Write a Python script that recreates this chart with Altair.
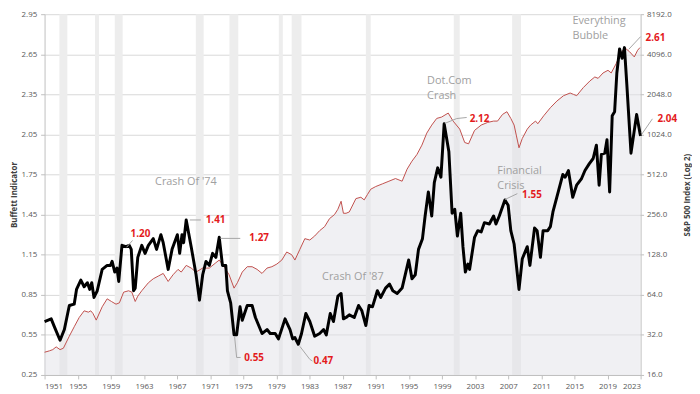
import altair as alt
import pandas as pd

# ---------------- data ----------------
bi_year = [1951.00, 1951.80, 1952.19, 1952.87, 1953.39, 1953.99, 1954.58, 1954.86, 1955.38, 1955.78,
           1956.17, 1956.46, 1956.70, 1956.97, 1957.36, 1957.96, 1958.56, 1958.96, 1959.16, 1959.48,
           1959.75, 1959.96, 1960.35, 1960.83, 1961.23, 1961.47, 1961.75, 1961.95, 1962.26, 1962.74,
           1963.14, 1963.54, 1964.13, 1964.53, 1965.05, 1965.33, 1965.93, 1966.40, 1967.04, 1967.32,
           1967.60, 1967.80, 1968.11, 1968.71, 1969.30, 1969.71, 1970.10, 1970.50, 1970.90, 1971.30,
           1971.69, 1972.10, 1972.49, 1972.89, 1973.09, 1973.48, 1973.89, 1974.20, 1974.61, 1974.88,
           1975.48, 1976.07, 1976.47, 1977.27, 1977.87, 1978.26, 1978.86, 1979.26, 1980.05, 1980.65,
           1980.97, 1981.24, 1981.65, 1982.04, 1982.56, 1983.04, 1983.63, 1984.23, 1984.71, 1985.03,
           1985.51, 1985.90, 1986.43, 1986.82, 1987.10, 1987.42, 1987.81, 1988.41, 1988.93, 1989.33,
           1989.81, 1990.20, 1990.61, 1991.20, 1991.60, 1992.19, 1992.67, 1993.07, 1993.59, 1994.19,
           1994.98, 1995.38, 1995.78, 1996.17, 1996.65, 1996.97, 1997.36, 1997.77, 1998.08, 1998.49,
           1998.88, 1999.27, 1999.84, 2000.23, 2000.55, 2000.87, 2001.27, 2001.54, 2001.83, 2002.14,
           2002.34, 2002.94, 2003.33, 2003.74, 2004.13, 2004.73, 2005.24, 2005.53, 2005.93, 2006.61,
           2007.00, 2007.32, 2007.72, 2008.31, 2008.71, 2009.31, 2009.63, 2010.19, 2010.50, 2010.90,
           2011.22, 2011.78, 2012.10, 2012.41, 2013.09, 2013.60, 2013.89, 2014.28, 2014.80, 2015.27,
           2015.87, 2016.28, 2016.79, 2017.27, 2017.66, 2017.99, 2018.26, 2018.67, 2018.94, 2019.26,
           2019.57, 2019.86, 2020.13, 2020.46, 2020.77, 2021.05, 2021.33, 2021.84, 2022.52, 2022.92,
           2023.00]
buffett = [0.65, 0.67, 0.61, 0.51, 0.59, 0.77, 0.78, 0.89, 0.96, 0.91,
           0.94, 0.89, 0.94, 0.83, 0.88, 1.04, 1.07, 1.07, 1.10, 1.02,
           1.05, 0.95, 1.22, 1.21, 1.22, 1.19, 0.88, 0.90, 1.13, 1.22,
           1.16, 1.22, 1.27, 1.19, 1.30, 1.24, 1.04, 1.19, 1.30, 1.16,
           1.30, 1.24, 1.41, 1.21, 1.00, 0.81, 1.00, 1.10, 1.07, 1.16,
           1.13, 1.28, 1.07, 1.07, 0.88, 0.79, 0.55, 0.55, 0.76, 0.66,
           0.77, 0.77, 0.68, 0.56, 0.59, 0.56, 0.56, 0.52, 0.67, 0.59,
           0.52, 0.53, 0.48, 0.56, 0.71, 0.65, 0.54, 0.56, 0.59, 0.55,
           0.71, 0.65, 0.84, 0.86, 0.67, 0.68, 0.70, 0.68, 0.77, 0.73,
           0.62, 0.77, 0.76, 0.88, 0.83, 0.90, 0.93, 0.88, 0.86, 0.90,
           1.11, 0.97, 1.00, 1.19, 1.27, 1.44, 1.62, 1.44, 1.69, 1.80,
           1.73, 2.13, 1.92, 1.46, 1.49, 1.29, 1.46, 1.21, 1.02, 1.08,
           1.04, 1.28, 1.33, 1.32, 1.39, 1.38, 1.44, 1.38, 1.44, 1.56,
           1.52, 1.33, 1.23, 0.89, 1.12, 1.21, 1.07, 1.35, 1.33, 1.13,
           1.33, 1.33, 1.36, 1.47, 1.63, 1.75, 1.73, 1.78, 1.58, 1.67,
           1.72, 1.78, 1.83, 1.87, 1.97, 1.67, 1.90, 1.91, 2.01, 1.62,
           2.19, 2.22, 2.51, 2.69, 2.62, 2.70, 2.43, 1.91, 2.20, 2.06,
           2.04]

sp_year = [1951.00, 1951.60, 1951.99, 1952.40, 1952.87, 1953.27, 1953.99, 1954.58, 1955.18, 1955.78,
           1956.29, 1956.58, 1956.85, 1957.24, 1957.96, 1958.56, 1959.08, 1959.63, 1960.04, 1960.55,
           1961.15, 1961.54, 1961.95, 1962.26, 1962.74, 1963.54, 1964.13, 1964.73, 1965.33, 1965.93,
           1966.52, 1967.12, 1967.51, 1968.11, 1968.71, 1969.30, 1970.10, 1970.90, 1971.69, 1972.10,
           1972.69, 1973.29, 1973.89, 1974.29, 1974.88, 1975.48, 1976.07, 1976.67, 1977.27, 1977.87,
           1978.46, 1979.06, 1979.66, 1980.25, 1980.85, 1981.24, 1981.84, 1982.44, 1983.04, 1983.63,
           1984.23, 1984.83, 1985.42, 1986.02, 1986.43, 1986.82, 1987.10, 1987.42, 1987.81, 1988.61,
           1989.21, 1989.61, 1990.00, 1990.40, 1991.00, 1991.80, 1992.60, 1993.39, 1994.19, 1994.79,
           1995.38, 1995.98, 1996.58, 1997.17, 1997.77, 1998.37, 1998.96, 1999.76, 2000.35, 2001.15,
           2001.75, 2002.22, 2002.94, 2003.74, 2004.53, 2005.24, 2005.72, 2006.32, 2006.85, 2007.32,
           2007.72, 2008.31, 2008.71, 2009.31, 2009.71, 2010.31, 2010.58, 2011.30, 2012.10, 2012.89,
           2013.69, 2014.49, 2014.88, 2015.28, 2016.07, 2016.87, 2017.47, 2017.87, 2018.46, 2019.06,
           2019.45, 2020.05, 2020.46, 2020.85, 2021.25, 2021.65, 2022.24, 2022.64, 2022.92]
sp500 = [23.7, 24.3, 24.8, 26.0, 24.8, 25.4, 31.3, 36.8, 43.2, 48.5,
         47.4, 48.5, 46.3, 41.3, 52.0, 59.7, 57.0, 54.4, 55.7, 67.0,
         68.6, 67.0, 57.0, 62.5, 68.6, 78.8, 84.4, 88.4, 92.6, 80.6,
         90.5, 99.3, 94.8, 106.4, 101.6, 94.8, 101.6, 101.6, 111.4, 116.7,
         104.0, 90.5, 71.8, 78.8, 94.8, 104.0, 104.0, 99.3, 92.6, 101.6,
         104.0, 108.9, 116.7, 134.1, 128.0, 116.7, 140.4, 168.9, 165.0, 176.9,
         194.0, 207.9, 238.9, 256.0, 280.8, 322.5, 262.0, 262.0, 268.1, 337.8,
         345.7, 330.1, 362.0, 397.1, 415.9, 435.5, 456.1, 477.7, 456.1, 561.6,
         645.1, 724.1, 851.2, 1048, 1204, 1351, 1383, 1482, 1290, 1123,
         891, 871, 1098, 1204, 1261, 1290, 1290, 1448, 1517, 1351,
         1204, 813, 956, 1123, 1204, 1290, 1232, 1415, 1626, 1825,
         2001, 2096, 2048, 2001, 2299, 2580, 2766, 2702, 2964, 3104,
         2964, 3484, 4002, 4390, 4493, 4290, 3911, 4390, 4598]

rec_start = [1952.79, 1957.09, 1959.48, 1969.27, 1973.33, 1979.30, 1980.85, 1989.81, 2000.43, 2007.48]
rec_end = [1953.75, 1957.57, 1960.43, 1970.22, 1974.40, 1979.78, 1982.04, 1990.40, 2001.15, 2008.55]

x_ticks = list(range(1951, 2024, 4))
left_ticks = [0.25, 0.55, 0.85, 1.15, 1.45, 1.75, 2.05, 2.35, 2.65, 2.95]
right_ticks = [16, 32, 64, 128, 256, 512, 1024, 2048, 4096, 8192]

val_text = ["1.20", "1.41", "1.27", "0.55", "0.47", "2.12", "1.55", "2.61", "2.04"]
val_year = [1962.58, 1971.66, 1976.91, 1976.31, 1984.67, 2003.54, 2009.87, 2024.79, 2026.22]
val_pos = [1.301, 1.410, 1.272, 0.374, 0.352, 2.169, 1.600, 2.775, 2.169]

lead_id = [0, 0, 1, 1, 2, 2, 3, 3, 3, 4, 4, 4, 5, 5, 5, 6, 6, 7, 7, 8, 8]
lead_year = [1960.91, 1961.63, 1968.55, 1969.87, 1972.25, 1974.64, 1973.96, 1974.20, 1974.68,
             1981.84, 1983.04, 1983.36, 1999.36, 2000.79, 2001.99, 2006.61, 2008.11,
             2021.57, 2023.00, 2023.12, 2024.43]
lead_pos = [1.206, 1.257, 1.410, 1.410, 1.272, 1.272, 0.535, 0.381, 0.381,
            0.464, 0.367, 0.354, 2.133, 2.169, 2.177, 1.563, 1.607,
            2.687, 2.782, 2.050, 2.167]

mid_text = ["Crash Of '74", "Crash Of '87"]
mid_year = [1968.07, 1988.25]
mid_pos = [1.695, 0.980]

left_text = ["Dot.Com", "Crash", "Financial", "Crisis", "Everything", "Bubble"]
left_year = [1997.21, 1997.21, 2005.69, 2005.69, 2014.76, 2014.76]
left_pos = [2.446, 2.337, 1.775, 1.666, 2.899, 2.789]

# ---------------- frames ----------------
bi_df = pd.DataFrame({"year": bi_year, "bi": buffett})
sp_df = pd.DataFrame({"year": sp_year, "sp": sp500})
rec_df = pd.DataFrame({"start": rec_start, "end": rec_end})
val_df = pd.DataFrame({"year": val_year, "v": val_pos, "t": val_text})
lead_df = pd.DataFrame({"year": lead_year, "v": lead_pos, "id": lead_id,
                        "seq": list(range(len(lead_id)))})
mid_df = pd.DataFrame({"year": mid_year, "v": mid_pos, "t": mid_text})
left_df = pd.DataFrame({"year": left_year, "v": left_pos, "t": left_text})

W, H = 603, 365
FONT = "Open Sans"
GRAY_TXT = "#595959"
LINE_GRAY = "#bfbfbf"
NOTE_GRAY = "#a0a0a0"

xs = alt.Scale(domain=[1951, 2023], nice=False, zero=False)
ls = alt.Scale(domain=[0.25, 2.95], nice=False, zero=False)
rs = alt.Scale(type="log", base=2, domain=[16, 8192], nice=False)

x_axis = alt.Axis(values=x_ticks, format="d", grid=False, title=None, orient="bottom",
                  labelFontSize=8, labelColor=GRAY_TXT, labelFont=FONT,
                  tickSize=4, tickColor=LINE_GRAY, domainColor=LINE_GRAY,
                  labelPadding=4)

left_axis = alt.Axis(orient="left", values=left_ticks, format=".2f", grid=True,
                     gridColor="#d9d9d9", gridWidth=1,
                     labelFontSize=8, labelColor=GRAY_TXT, labelFont=FONT,
                     tickSize=4, tickColor=LINE_GRAY, domainColor=LINE_GRAY,
                     labelPadding=4,
                     title="Buffett Indicator", titleAngle=270, titleFontSize=8,
                     titleFont=FONT, titleFontWeight="bold", titleColor="#404040",
                     titleX=-30, titleBaseline="middle")

right_axis = alt.Axis(orient="right", values=right_ticks, format=".1f", grid=False,
                      labelFontSize=8, labelColor=GRAY_TXT, labelFont=FONT,
                      tickSize=3, tickColor=LINE_GRAY, domainColor=LINE_GRAY,
                      labelPadding=3,
                      title="S&P 500 Index (Log 2)", titleAngle=270, titleFontSize=8,
                      titleFont=FONT, titleFontWeight="bold", titleColor="#404040",
                      titleX=47, titleBaseline="middle")

def xq(field="year"):
    return alt.X(f"{field}:Q", scale=xs, axis=x_axis)

bands = alt.Chart(rec_df).mark_rect(color="#ededed").encode(
    x=xq("start"), x2="end",
    y=alt.YDatum(2.95, type="quantitative", scale=ls, axis=None),
    y2=alt.datum(0.25),
)

area = alt.Chart(sp_df).mark_area(color="#e2e2e8", opacity=0.5).encode(
    x=xq(),
    y=alt.Y("sp:Q", scale=rs, axis=None),
    y2=alt.datum(16),
)

red = alt.Chart(sp_df).mark_line(color="#c0504d", strokeWidth=1).encode(
    x=xq(),
    y=alt.Y("sp:Q", scale=rs, axis=right_axis),
)

black = alt.Chart(bi_df).mark_line(color="#000000", strokeWidth=3, strokeJoin="round").encode(
    x=xq(),
    y=alt.Y("bi:Q", scale=ls, axis=left_axis),
)

leaders = alt.Chart(lead_df).mark_line(color="#a6a6a6", strokeWidth=1).encode(
    x=xq(),
    y=alt.Y("v:Q", scale=ls, axis=None),
    detail="id:N",
    order="seq:Q",
)

vals = alt.Chart(val_df).mark_text(color="#e31a1c", fontSize=10, fontWeight="bold",
                                   font=FONT, align="center", baseline="middle").encode(
    x=xq(), y=alt.Y("v:Q", scale=ls, axis=None), text="t:N")

mids = alt.Chart(mid_df).mark_text(color=NOTE_GRAY, fontSize=11, font=FONT,
                                   align="center", baseline="middle").encode(
    x=xq(), y=alt.Y("v:Q", scale=ls, axis=None), text="t:N")

lefts = alt.Chart(left_df).mark_text(color=NOTE_GRAY, fontSize=11, font=FONT,
                                     align="left", baseline="middle").encode(
    x=xq(), y=alt.Y("v:Q", scale=ls, axis=None), text="t:N")

chart = alt.layer(bands, area, red, black, leaders, vals, mids, lefts).resolve_scale(
    y="independent"
).resolve_axis(x="shared").properties(
    width=W, height=H,
    autosize=alt.AutoSizeParams(type="none"),
    padding={"left": 37, "top": 4, "right": 52, "bottom": 17},
).configure(font=FONT).configure_view(stroke=None)

chart.save("out.html", embed_options={"renderer": "svg", "actions": False})
